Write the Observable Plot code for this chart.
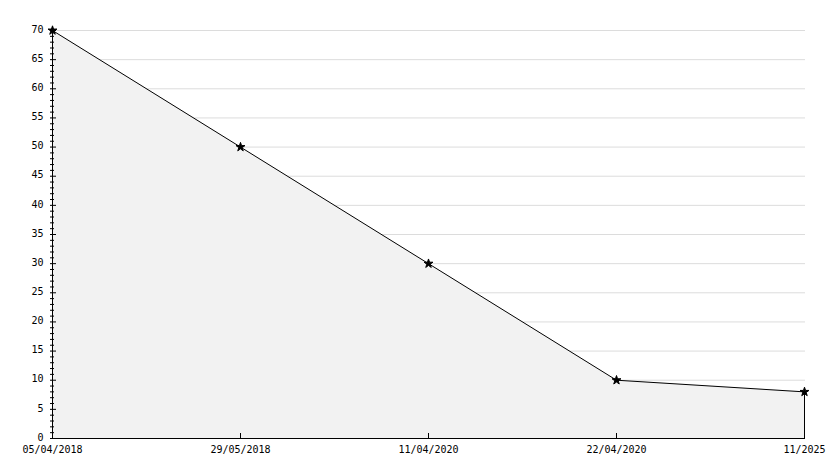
<!DOCTYPE html>
<html>
<head>
<meta charset="utf-8">
<script src="https://cdn.jsdelivr.net/npm/d3@7"></script>
<script src="https://cdn.jsdelivr.net/npm/@observablehq/plot@0.6"></script>
<style>
  html, body { margin: 0; padding: 0; background: #fff; }
</style>
</head>
<body>
<div id="chart"></div>
<script>
const dates = ["05/04/2018", "29/05/2018", "11/04/2020", "22/04/2020", "11/2025"];
const values = [70, 50, 30, 10, 8];
const yMajorTicks = [0, 5, 10, 15, 20, 25, 30, 35, 40, 45, 50, 55, 60, 65, 70];
const yMinorTicks = d3.range(0, 71, 1).filter(v => v % 5 !== 0);

const data = dates.map((d, i) => ({date: d, value: values[i]}));

const W = 834, H = 468;
const mL = 50, mR = 29, mT = 30, mB = 30;
const plotW = W - mL - mR, plotH = H - mT - mB;

const chart = Plot.plot({
  width: W,
  height: H,
  marginLeft: mL,
  marginRight: mR,
  marginTop: mT,
  marginBottom: mB,
  style: {fontFamily: "'DejaVu Sans Mono', monospace", fontSize: "10px", color: "#000", background: "#fff"},
  x: {type: "point", domain: dates, padding: 0, label: null},
  y: {domain: [0, 70], label: null},
  marks: [
    Plot.gridY(yMajorTicks, {stroke: "#dcdcdc", strokeOpacity: 1}),
    Plot.areaY(data, {x: "date", y: "value", fill: "#f2f2f2"}),
    Plot.lineY(data, {x: "date", y: "value", stroke: "#000", strokeWidth: 1}),
    Plot.ruleX([data[data.length - 1]], {x: "date", y1: 0, y2: "value", stroke: "#000"}),
    Plot.ruleX([dates[0]], {stroke: "#000"}),
    Plot.ruleY([0], {stroke: "#000"}),
    Plot.ruleY(yMajorTicks, {stroke: "#000", insetRight: plotW - 6}),
    Plot.ruleY(yMinorTicks, {stroke: "#000", insetRight: plotW - 4}),
    Plot.ruleX(dates, {stroke: "#000", insetTop: plotH - 5}),
    Plot.dot(data, {x: "date", y: "value", symbol: "star", r: 2.8, fill: "#000", stroke: "#000", strokeWidth: 1}),
    Plot.axisY({ticks: yMajorTicks, tickSize: 0, tickPadding: 7, dy: -1}),
    Plot.axisX({tickSize: 0, tickPadding: 7})
  ]
});
document.getElementById("chart").appendChild(chart);
</script>
</body>
</html>
